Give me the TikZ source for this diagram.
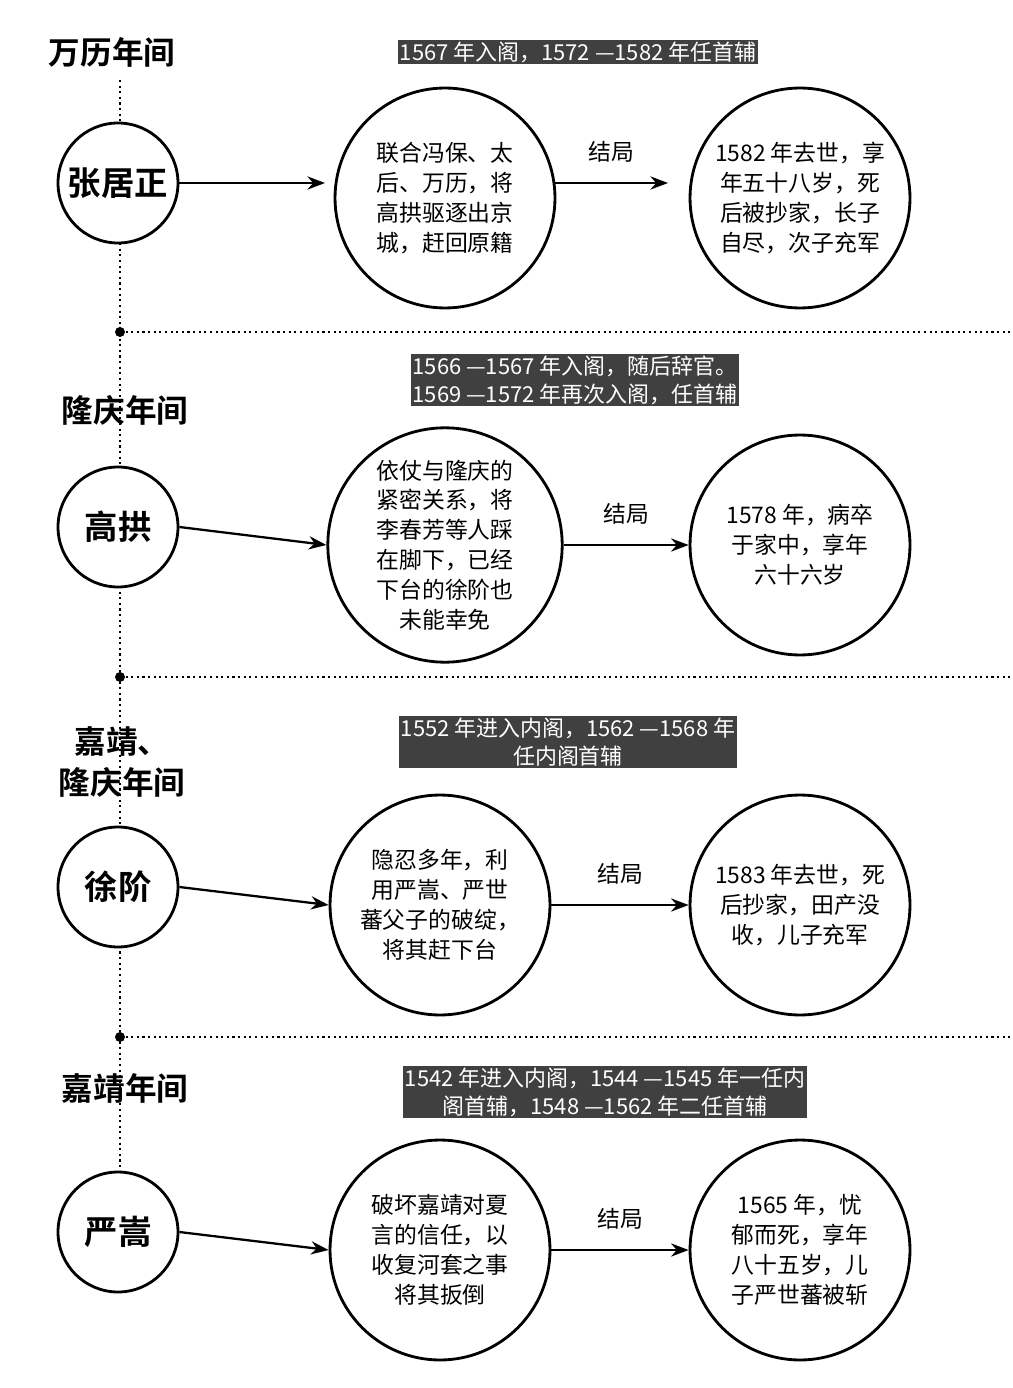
\documentclass[tikz,border=0pt]{standalone}
\usepackage{fontspec}
\setmainfont{Noto Sans CJK SC}
\newfontfamily\boldcjk{Noto Sans CJK SC Bold}
\usetikzlibrary{arrows.meta}

\tikzset{
  person/.style={circle,draw,line width=1.6pt,minimum size=2.4cm,font=\boldcjk\fontsize{19}{19}\selectfont},
  event/.style={circle,draw,line width=1.6pt,minimum size=4.4cm,align=center,font=\fontsize{13}{17}\selectfont},
  banner/.style={fill=black!75,text=white,align=center,inner sep=1pt,font=\fontsize{12.5}{16}\selectfont},
  era/.style={font=\boldcjk\fontsize{18}{23}\selectfont,align=center},
  flow/.style={-{Stealth[length=10pt]},line width=1.3pt},
  sep/.style={dotted,line width=1.2pt},
}

\begin{document}
\begin{tikzpicture}[x=0.02cm,y=-0.02cm]
   \useasboundingbox (0,0) rectangle (1012,1388);
   % timeline
   \draw[sep] (120,80) -- (120,1175);

   % Wanli
   \node[era] (e1) at (112,52) {万历年间};
   \node[banner] (b1) at (578,52) {1567 年入阁，1572 —1582 年任首辅};
   \node[person,fill=white] (p1) at (118,183) {张居正};
   \node[event] (m1) at (445,198) {联合冯保、太\\后、万历，将\\高拱驱逐出京\\城，赶回原籍};
   \node[event] (r1) at (800,198) {1582 年去世，享\\年五十八岁，死\\后被抄家，长子\\自尽，次子充军};
   \draw[flow] (p1.east) -- (325,183);
   \draw[flow] (554,183) -- (668,183) node[midway,above=8pt,font=\fontsize{13}{13}\selectfont] {结局};
   \fill (120,332) circle (5);
   \draw[sep] (120,332) -- (1012,332);

   % Longqing
   \node[era] (e2) at (125,410) {隆庆年间};
   \node[banner] (b2) at (575,380) {1566 —1567 年入阁，随后辞官。\\1569 —1572 年再次入阁，任首辅};
   \node[person,fill=white] (p2) at (118,527) {高拱};
   \node[event,minimum size=4.6cm] (m2) at (445,545) {依仗与隆庆的\\紧密关系，将\\李春芳等人踩\\在脚下，已经\\下台的徐阶也\\未能幸免};
   \node[event] (r2) at (800,545) {1578 年，病卒\\于家中，享年\\六十六岁};
   \draw[flow] (p2.east) -- (m2.west);
   \draw[flow] (m2.east) -- (r2.west) node[midway,above=8pt,font=\fontsize{13}{13}\selectfont] {结局};
   \fill (120,677) circle (5);
   \draw[sep] (120,677) -- (1012,677);

   % Jiajing, Longqing
   \node[era] (e3) at (122,762) {嘉靖、\\隆庆年间};
   \node[banner] (b3) at (568,742) {1552 年进入内阁，1562 —1568 年\\任内阁首辅};
   \node[person,fill=white] (p3) at (118,887) {徐阶};
   \node[event] (m3) at (440,905) {隐忍多年，利\\用严嵩、严世\\蕃父子的破绽，\\将其赶下台};
   \node[event] (r3) at (800,905) {1583 年去世，死\\后抄家，田产没\\收，儿子充军};
   \draw[flow] (p3.east) -- (m3.west);
   \draw[flow] (m3.east) -- (r3.west) node[midway,above=8pt,font=\fontsize{13}{13}\selectfont] {结局};
   \fill (120,1037) circle (5);
   \draw[sep] (120,1037) -- (1012,1037);

   % Jiajing
   \node[era] (e4) at (125,1088) {嘉靖年间};
   \node[banner] (b4) at (605,1092) {1542 年进入内阁，1544 —1545 年一任内\\阁首辅，1548 —1562 年二任首辅};
   \node[person,fill=white] (p4) at (118,1232) {严嵩};
   \node[event] (m4) at (440,1250) {破坏嘉靖对夏\\言的信任，以\\收复河套之事\\将其扳倒};
   \node[event] (r4) at (800,1250) {1565 年，忧\\郁而死，享年\\八十五岁，儿\\子严世蕃被斩};
   \draw[flow] (p4.east) -- (m4.west);
   \draw[flow] (m4.east) -- (r4.west) node[midway,above=8pt,font=\fontsize{13}{13}\selectfont] {结局};
\end{tikzpicture}
\end{document}
